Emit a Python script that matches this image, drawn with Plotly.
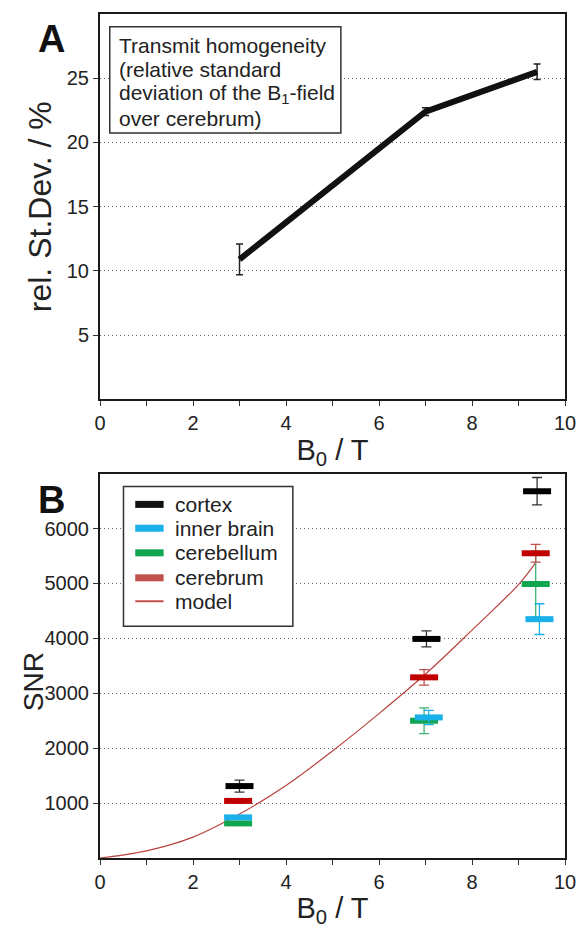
import plotly.graph_objects as go

# ---------- Data ----------
# Panel A: transmit homogeneity
b0_a = [3.0, 7.0, 9.4]
rel_sd = [10.9, 22.4, 25.5]
rel_sd_err = [1.2, 0.3, 0.6]

# Panel B: SNR
cortex_x = [3.0, 7.02, 9.4]
cortex = [1310, 3990, 6680]
cortex_err = [110, 145, 250]

inner_x = [2.97, 7.07, 9.45]
inner_brain = [740, 2560, 4350]
inner_err = [25, 130, 280]

cerebellum_x = [2.97, 6.97, 9.37]
cerebellum = [630, 2500, 4990]
cerebellum_err = [25, 235, 600]

cerebrum_x = [2.97, 6.97, 9.37]
cerebrum = [1040, 3290, 5550]
cerebrum_err = [40, 140, 160]

model_x = [0, 1, 2, 3, 4, 5, 6, 7, 8, 9, 9.37]
model_y = [0, 130, 380, 800, 1320, 1950, 2630, 3350, 4150, 4980, 5380]

ya_ticks = [5, 10, 15, 20, 25]
yb_ticks = [1000, 2000, 3000, 4000, 5000, 6000]

legend_names = ["cortex", "inner brain", "cerebellum", "cerebrum", "model"]
legend_colors = ["#111111", "#1ab0ea", "#10a650", "#c0504d", "#c0504d"]

FONT = "Liberation Sans, Arial, sans-serif"

fig = go.Figure()

# Panel A
fig.add_trace(go.Scatter(
    x=b0_a, y=rel_sd, mode="lines", xaxis="x", yaxis="y",
    line=dict(color="#111111", width=6),
    error_y=dict(type="data", array=rel_sd_err, color="#222222", thickness=1.5, width=3.5),
    showlegend=False, name="rel. St.Dev."))

# Panel B
fig.add_trace(go.Scatter(
    x=model_x, y=model_y, mode="lines", xaxis="x2", yaxis="y2",
    line=dict(color="#b9433f", width=1.2, shape="spline"),
    showlegend=False, name="model"))


def bar_trace(xs, ys, err, color, ecolor, name):
    return go.Scatter(
        x=xs, y=ys, mode="markers", xaxis="x2", yaxis="y2", name=name,
        marker=dict(symbol="line-ew", size=20, line=dict(width=6, color=color)),
        error_y=dict(type="data", array=err, color=ecolor, thickness=1.3, width=5),
        showlegend=False)


fig.add_trace(bar_trace(cerebellum_x, cerebellum, cerebellum_err, "#10a650", "#3cb371", "cerebellum"))
fig.add_trace(bar_trace(inner_x, inner_brain, inner_err, "#1ab0ea", "#1ab0ea", "inner brain"))
fig.add_trace(bar_trace(cerebrum_x, cerebrum, cerebrum_err, "#c00000", "#c0504d", "cerebrum"))
fig.add_trace(bar_trace(cortex_x, cortex, cortex_err, "#000000", "#333333", "cortex"))

axis_common = dict(
    showline=True, linecolor="#1a1a1a", linewidth=2, mirror=True,
    ticks="outside", ticklen=5, tickwidth=1, tickcolor="#333333",
    tickfont=dict(family=FONT, size=20, color="#222222"),
    zeroline=False,
)
x_common = dict(range=[0, 10], tick0=0, dtick=2, showgrid=False,
                minor=dict(ticks="outside", ticklen=5, tickwidth=1, tickcolor="#333333",
                           dtick=1, showgrid=False),
                title=dict(text="B<sub>0</sub> / T", font=dict(size=29, family=FONT), standoff=6))
grid_common = dict(showgrid=True, gridcolor="#666666", gridwidth=1, griddash="1px,3px")

fig.update_layout(
    width=588, height=931,
    margin=dict(l=100, r=13, t=14, b=65),
    paper_bgcolor="white", plot_bgcolor="white",
    font=dict(family=FONT, color="#222222"),
    xaxis=dict(domain=[0, 1], anchor="y", **x_common, **axis_common),
    yaxis=dict(domain=[0.5434, 1], range=[0, 30], anchor="x", tickvals=ya_ticks,
               title=dict(text="rel. St.Dev. / %", font=dict(size=32, family=FONT), standoff=6),
               **grid_common, **axis_common),
    xaxis2=dict(domain=[0, 1], anchor="y2", **x_common, **axis_common),
    yaxis2=dict(domain=[0, 0.4554], range=[0, 7000], anchor="x2", tickvals=yb_ticks,
                **grid_common, **axis_common),
)

shapes = []
annotations = []

# Panel A text box
shapes.append(dict(type="rect", xref="x domain", yref="y domain",
                   x0=0.021, x1=0.518, y0=0.6915, y1=0.9666,
                   line=dict(color="#333333", width=1.5), fillcolor="white", layer="above"))
a_lines = ["Transmit homogeneity", "(relative standard",
           "deviation of the B<sub>1</sub>-field", "over cerebrum)"]
a_ys = [0.9177, 0.8548, 0.7918, 0.7288]
for t, yy in zip(a_lines, a_ys):
    annotations.append(dict(text=t, xref="x domain", yref="y domain", x=0.0358, y=yy,
                            xanchor="left", yanchor="middle", showarrow=False,
                            font=dict(size=21, family=FONT, color="#222222")))

# Panel B legend box
shapes.append(dict(type="rect", xref="x2 domain", yref="y2 domain",
                   x0=0.0505, x1=0.4147, y0=0.603, y1=0.9665,
                   line=dict(color="#333333", width=1.5), fillcolor="white", layer="above"))
leg_ys = [0.920, 0.858, 0.794, 0.729, 0.668]
for nm, col, yy in zip(legend_names, legend_colors, leg_ys):
    shapes.append(dict(type="line", xref="x2 domain", yref="y2 domain",
                       x0=0.0758, x1=0.1368, y0=yy, y1=yy,
                       line=dict(color=col, width=2 if nm == "model" else 7), layer="above"))
    annotations.append(dict(text=nm, xref="x2 domain", yref="y2 domain", x=0.158, y=yy,
                            xanchor="left", yanchor="middle", showarrow=False,
                            font=dict(size=21, family=FONT, color="#222222")))

# SNR axis title
annotations.append(dict(text="SNR", xref="paper", yref="paper", x=-0.143, y=0.2089,
                        xanchor="center", yanchor="middle", textangle=-90, showarrow=False,
                        font=dict(size=28, family=FONT, color="#222222")))

# Panel labels
annotations.append(dict(text="<b>A</b>", xref="paper", yref="paper", x=-0.105, y=0.9707,
                        xanchor="center", yanchor="middle", showarrow=False,
                        font=dict(size=38, family=FONT, color="#111111")))
annotations.append(dict(text="<b>B</b>", xref="paper", yref="paper", x=-0.105, y=0.4237,
                        xanchor="center", yanchor="middle", showarrow=False,
                        font=dict(size=38, family=FONT, color="#111111")))

fig.update_layout(shapes=shapes, annotations=annotations)

fig.write_html("out.html", config={"displayModeBar": False},
               post_script="document.body.style.margin='0';document.body.style.overflow='hidden';")
